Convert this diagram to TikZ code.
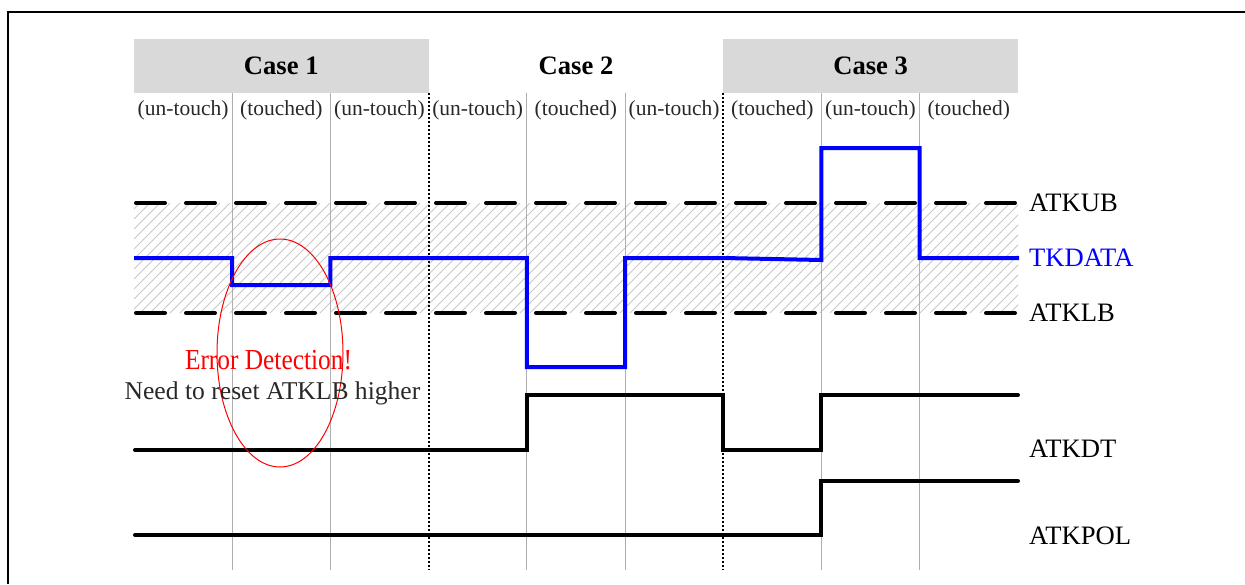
\documentclass[tikz,border=0pt]{standalone}
\usepackage{fontspec}
\setmainfont{Liberation Serif}
\usepackage{graphicx}
\definecolor{headgray}{RGB}{217,217,217}
\definecolor{hatchgray}{RGB}{200,200,200}
\definecolor{gridgray}{RGB}{175,175,175}
\definecolor{txtgray}{RGB}{40,40,40}
\tikzset{
  frame/.style={line width=2pt, black},
  headbox/.style={fill=headgray, draw=none},
  hatchline/.style={hatchgray, line width=1pt},
  gridline/.style={gridgray, line width=0.8pt},
  casesep/.style={black, line width=2pt, dash pattern=on 2pt off 2pt},
  bound/.style={black, line width=4pt, line cap=round, dash pattern=on 29pt off 21pt},
  datasig/.style={blue, line width=4pt, line join=miter},
  logicsig/.style={black, line width=4pt, line join=miter, line cap=round},
  errring/.style={red, line width=1pt},
  casetxt/.style={font=\fontsize{26.6}{30}\selectfont\bfseries, inner sep=0pt},
  subtxt/.style={font=\fontsize{21.5}{24}\selectfont, text=txtgray, inner sep=0pt},
  sigtxt/.style={font=\fontsize{26.6}{30}\selectfont, anchor=west, inner sep=0pt},
  notetxt/.style={font=\fontsize{25.6}{30}\selectfont, text=txtgray, inner sep=0pt},
}
\begin{document}
\begin{tikzpicture}[x=1pt,y=-1pt]
\useasboundingbox (0,0) rectangle (1245,584);
% frame
\draw[frame] (8,584) -- (8,12) -- (1245,12);
% header boxes
\fill[headbox] (134,39) rectangle (428.6,93);
\fill[headbox] (723.2,39) rectangle (1018,93);
\node[casetxt] (c1) at (281.3,66) {Case 1};
\node[casetxt] (c2) at (576,66) {Case 2};
\node[casetxt] (c3) at (870.6,66) {Case 3};
% hatch band
\begin{scope}
\clip (134,203) rectangle (1018,313);
\foreach \i in {0,...,102} {
  \draw[hatchline] ({20+\i*10},313) -- ++(110,-110);
}
\end{scope}
% grid lines
\foreach \x in {232.2,330.4,526.8,625,821.4,919.6} {
  \draw[gridline] (\x,93) -- (\x,570);
}
\draw[casesep] (428.6,93) -- (428.6,570);
\draw[casesep] (723.2,93) -- (723.2,570);
% sub labels
\node[subtxt] (s1) at (183.1,110) {(un-touch)};
\node[subtxt] (s2) at (281.3,110) {(touched)};
\node[subtxt] (s3) at (379.5,110) {(un-touch)};
\node[subtxt] (s4) at (477.7,110) {(un-touch)};
\node[subtxt] (s5) at (575.9,110) {(touched)};
\node[subtxt] (s6) at (674.1,110) {(un-touch)};
\node[subtxt] (s7) at (772.3,110) {(touched)};
\node[subtxt] (s8) at (870.5,110) {(un-touch)};
\node[subtxt] (s9) at (968.7,110) {(touched)};
% bounds
\draw[bound] (136,203) -- (1015,203);
\draw[bound] (136,313) -- (1015,313);
% TKDATA
\draw[datasig] (134,258) -- (232.2,258) -- (232.2,285) -- (330.4,285) -- (330.4,258)
  -- (526.8,258) -- (526.8,367) -- (625,367) -- (625,258) -- (723.2,258)
  -- (821.4,260) -- (821.4,148) -- (919.6,148) -- (919.6,258) -- (1019,258);
% ATKDT
\draw[logicsig] (135,450) -- (526.8,450) -- (526.8,395) -- (723.2,395) -- (723.2,450)
  -- (821.4,450) -- (821.4,395) -- (1018,395);
% ATKPOL
\draw[logicsig] (135,535) -- (821.4,535) -- (821.4,481) -- (1018,481);
% labels
\node[sigtxt] (ub) at (1029,203) {ATKUB};
\node[sigtxt, text=blue] (td) at (1029,258) {TKDATA};
\node[sigtxt] (lb) at (1029,313) {ATKLB};
\node[sigtxt] (dt) at (1029,449) {ATKDT};
\node[sigtxt] (pol) at (1029,536) {ATKPOL};
% error ring
\draw[errring] (280,353) ellipse [x radius=63, y radius=114];
\node[font=\fontsize{29}{32}\selectfont, text=red, inner sep=0pt] (err) at (268.5,360) {\scalebox{0.875}[1]{Error Detection!}};
\node[notetxt] (need) at (272.5,393) {Need to reset ATKLB higher};
\end{tikzpicture}
\end{document}
